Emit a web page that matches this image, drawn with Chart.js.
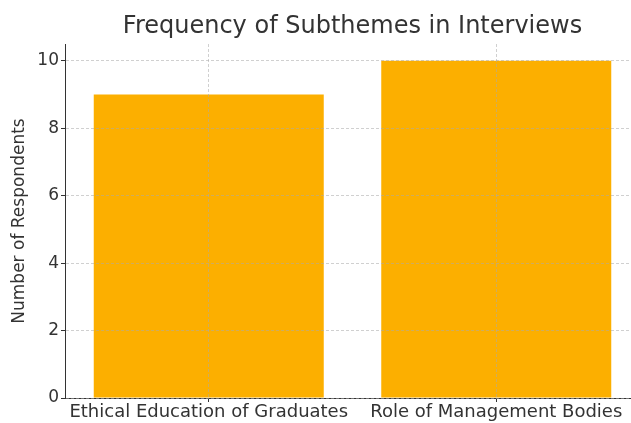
<!DOCTYPE html>
<html lang="en">
<head>
    <meta charset="UTF-8">
    <title>Frequency of Subthemes in Interviews</title>
    <script src="https://cdn.jsdelivr.net/npm/chart.js"></script>
    <style>
        html, body { margin: 0; padding: 0; overflow: hidden; background: #fff; }
        #wrap { width: 640px; height: 423px; }
    </style>
</head>
<body>
    <div id="wrap"><canvas id="subthemeChart"></canvas></div>
    <script>
        // data
        const subthemes = ['Ethical Education of Graduates', 'Role of Management Bodies'];
        const respondents = [9, 10];
        const yTicks = [0, 2, 4, 6, 8, 10];

        const textColor = '#333333';
        const gridColor = 'rgba(170,170,170,0.55)';

        new Chart(document.getElementById('subthemeChart'), {
            type: 'bar',
            data: {
                labels: subthemes,
                datasets: [{
                    data: respondents,
                    backgroundColor: '#FCAF00',
                    barPercentage: 0.8,
                    categoryPercentage: 1.0
                }]
            },
            options: {
                responsive: true,
                maintainAspectRatio: false,
                animation: false,
                layout: { padding: 0 },
                plugins: {
                    legend: { display: false },
                    tooltip: { enabled: false },
                    title: {
                        display: true,
                        fullSize: false,
                        text: 'Frequency of Subthemes in Interviews',
                        color: textColor,
                        font: { family: 'DejaVu Sans', size: 24, weight: 'normal' },
                        padding: { top: 12.6, bottom: 2.6 }
                    }
                },
                scales: {
                    x: {
                        offset: true,
                        afterFit: s => { s.height = 25; },
                        ticks: {
                            color: textColor,
                            font: { family: 'DejaVu Sans', size: 18 },
                            maxRotation: 0,
                            autoSkip: false,
                            padding: 0
                        },
                        grid: {
                            offset: false,
                            color: gridColor,
                            z: 1,
                            tickLength: 4,
                            tickColor: textColor
                        },
                        border: { color: textColor, width: 1, dash: [3, 2], z: 1 }
                    },
                    y: {
                        min: 0,
                        max: 10.5,
                        afterBuildTicks: s => { s.ticks = yTicks.map(v => ({ value: v })); },
                        afterFit: s => { s.width = 65; },
                        ticks: {
                            color: textColor,
                            font: { family: 'DejaVu Sans', size: 17 },
                            padding: 2
                        },
                        grid: {
                            color: gridColor,
                            z: 1,
                            tickLength: 4,
                            tickColor: textColor
                        },
                        border: { color: textColor, width: 1, dash: [3, 2], z: 1 },
                        title: {
                            display: true,
                            text: 'Number of Respondents',
                            color: textColor,
                            font: { family: 'DejaVu Sans', size: 17 },
                            padding: { top: 9, bottom: 0 }
                        }
                    }
                }
            }
        });
    </script>
</body>
</html>
